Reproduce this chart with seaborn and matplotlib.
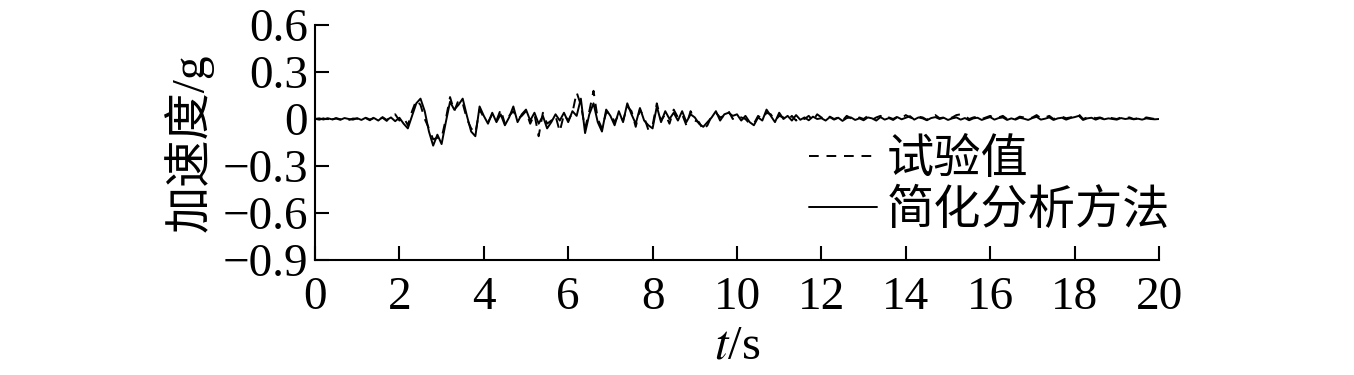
import numpy as np
import pandas as pd
import matplotlib
matplotlib.use("Agg")
import matplotlib.pyplot as plt
import seaborn as sns

# time axis (s), step 0.1 s
t_values = [round(i * 0.1, 1) for i in range(201)]

# 简化分析方法 (simplified analysis), g
sim_values = [
    0.000, 0.004, -0.003, 0.005, -0.002, 0.003, -0.005, 0.006, 0.000, -0.004,
    0.005, -0.006, 0.008, -0.003, 0.006, -0.010, 0.012, -0.006, 0.010, -0.014,
    0.008, -0.030, -0.060, 0.020, 0.100, 0.130, 0.050, -0.080, -0.170, -0.100,
    -0.160, -0.020, 0.110, 0.060, 0.090, 0.130, 0.020, -0.080, -0.110, 0.080,
    0.020, -0.030, 0.040, -0.020, 0.030, -0.040, 0.010, 0.080, -0.020, 0.030,
    0.060, -0.010, 0.040, -0.030, 0.020, -0.060, -0.020, 0.030, -0.010, 0.040,
    -0.020, 0.050, 0.020, 0.130, -0.090, 0.030, 0.100, -0.020, -0.080, 0.060,
    0.020, -0.040, 0.050, -0.020, 0.100, 0.030, -0.030, 0.070, -0.010, -0.040,
    -0.060, 0.080, -0.020, 0.050, 0.000, 0.040, -0.010, 0.050, -0.020, 0.030,
    0.010, -0.030, -0.050, -0.020, 0.010, 0.050, -0.010, 0.030, 0.040, 0.020,
    0.030, -0.010, 0.020, -0.020, -0.040, 0.010, -0.010, 0.060, 0.020, -0.020,
    0.040, 0.000, 0.020, -0.010, 0.025, -0.005, 0.010, -0.008, 0.015, 0.000,
    0.005, -0.010, 0.012, -0.004, 0.008, -0.012, 0.006, 0.010, -0.006, 0.004,
    -0.008, 0.010, 0.004, -0.010, 0.012, -0.004, 0.006, -0.006, 0.012, -0.002,
    0.008, 0.018, -0.004, 0.010, 0.004, -0.008, 0.006, 0.012, 0.000, 0.008,
    -0.006, 0.004, 0.010, -0.004, 0.006, -0.008, 0.004, 0.008, -0.006, 0.004,
    0.012, -0.004, 0.006, 0.010, -0.006, 0.004, -0.004, 0.008, 0.002, -0.006,
    0.006, 0.014, -0.004, 0.002, 0.010, -0.006, 0.004, 0.008, -0.004, 0.006,
    0.012, 0.020, -0.006, 0.004, 0.008, -0.004, 0.006, -0.002, 0.004, 0.000,
    -0.004, 0.006, 0.000, 0.004, -0.002, 0.002, -0.004, 0.004, 0.000, -0.002,
    0.000,
]

# 试验值 (test), g
test_values = [
    0.002, -0.004, 0.004, 0.000, -0.005, 0.006, -0.002, 0.004, -0.006, 0.003,
    0.002, -0.004, 0.006, -0.008, 0.010, -0.004, 0.008, -0.012, 0.020, 0.030,
    -0.010, 0.010, -0.040, 0.050, 0.120, 0.090, 0.000, -0.060, -0.130, -0.120,
    -0.120, 0.000, 0.140, 0.050, 0.120, 0.100, 0.000, -0.060, -0.090, 0.060,
    0.010, -0.020, 0.030, -0.010, 0.060, -0.030, 0.020, 0.050, 0.000, 0.020,
    0.050, -0.030, 0.030, -0.110, 0.040, -0.030, -0.010, 0.020, -0.080, 0.030,
    -0.010, 0.040, 0.170, 0.090, -0.060, 0.050, 0.180, 0.000, -0.060, 0.040,
    0.040, -0.020, 0.030, -0.010, 0.080, 0.050, -0.050, 0.060, 0.010, -0.070,
    -0.040, 0.100, -0.010, 0.030, -0.030, 0.060, 0.010, 0.030, -0.040, 0.050,
    -0.010, -0.020, -0.070, -0.040, 0.020, 0.040, 0.010, 0.020, 0.050, 0.000,
    0.020, 0.010, 0.000, -0.030, -0.030, 0.020, 0.000, 0.040, 0.030, -0.010,
    0.020, 0.010, -0.010, 0.020, -0.010, 0.015, 0.000, 0.020, -0.010, 0.030,
    0.010, -0.005, 0.015, 0.000, 0.010, -0.010, 0.020, 0.005, -0.005, 0.010,
    0.000, 0.020, -0.005, 0.010, 0.020, 0.000, 0.010, 0.000, 0.015, 0.005,
    0.025, 0.010, 0.000, 0.015, 0.010, -0.005, 0.015, 0.025, 0.005, 0.010,
    0.000, 0.010, 0.025, 0.030, 0.020, 0.000, 0.010, 0.015, 0.000, 0.010,
    0.020, 0.005, 0.010, 0.020, 0.000, 0.010, 0.000, 0.015, 0.010, 0.000,
    0.010, 0.025, 0.005, 0.010, 0.020, 0.000, 0.010, 0.015, 0.005, 0.010,
    0.020, 0.030, 0.000, 0.010, 0.015, 0.005, 0.010, 0.000, 0.010, 0.005,
    0.000, 0.010, 0.005, 0.010, 0.000, 0.005, 0.000, 0.010, 0.005, 0.000,
    0.000,
]

x_ticks = [0, 2, 4, 6, 8, 10, 12, 14, 16, 18, 20]
y_ticks = [-0.9, -0.6, -0.3, 0, 0.3, 0.6]
y_ticklabels = ["\u22120.9", "\u22120.6", "\u22120.3", "0", "0.3", "0.6"]
series_names = ["试验值", "简化分析方法"]

sns.set_style("ticks")
plt.rcParams["font.family"] = ["Liberation Serif", "Noto Sans CJK SC"]
plt.rcParams["mathtext.fontset"] = "stix"
plt.rcParams["axes.unicode_minus"] = True
for k in ["text.color", "axes.labelcolor", "xtick.color", "ytick.color", "axes.edgecolor"]:
    plt.rcParams[k] = "black"

df = pd.DataFrame({
    "t": t_values * 2,
    "a": test_values + sim_values,
    "series": [series_names[0]] * len(t_values) + [series_names[1]] * len(t_values),
})

fig = plt.figure(figsize=(13.54, 3.75), dpi=100)
ax = fig.add_axes([315 / 1354, 1 - 260 / 375, (1159 - 315) / 1354, (260 - 25) / 375])

sns.lineplot(data=df, x="t", y="a", hue="series", style="series",
             palette={series_names[0]: "black", series_names[1]: "black"},
             dashes={series_names[0]: (5, 4), series_names[1]: ""},
             linewidth=1.4, ax=ax, legend=False, estimator=None, sort=False)

ax.set_xlim(0, 20)
ax.set_ylim(-0.9, 0.6)
ax.set_xticks(x_ticks)
ax.set_xticklabels([str(v) for v in x_ticks])
ax.set_yticks(y_ticks)
ax.set_yticklabels(y_ticklabels)
ax.tick_params(direction="in", length=10, width=1.5, labelsize=34, colors="black")
ax.tick_params(axis="x", pad=12)
ax.tick_params(axis="y", pad=5)
for s in ["top", "right"]:
    ax.spines[s].set_visible(False)
for s in ["left", "bottom"]:
    ax.spines[s].set_linewidth(1.5)
    ax.spines[s].set_color("black")

ax.set_xlabel(r"$t$/s", fontsize=35, labelpad=4)
ax.set_ylabel("加速度/g", fontsize=34, labelpad=6)

from matplotlib.lines import Line2D
handles = [Line2D([], [], color="black", lw=1.4, ls=(0, (5, 4))),
           Line2D([], [], color="black", lw=1.4, ls="-")]
leg = ax.legend(handles, series_names, loc="upper left",
                bbox_to_anchor=(0.585, 0.53), frameon=False,
                prop={"family": ["Noto Sans CJK SC"], "size": 34},
                handlelength=1.45, handletextpad=0.2, labelspacing=0.05,
                borderpad=0, borderaxespad=0)

fig.savefig("out.png", dpi=100, facecolor="white")
